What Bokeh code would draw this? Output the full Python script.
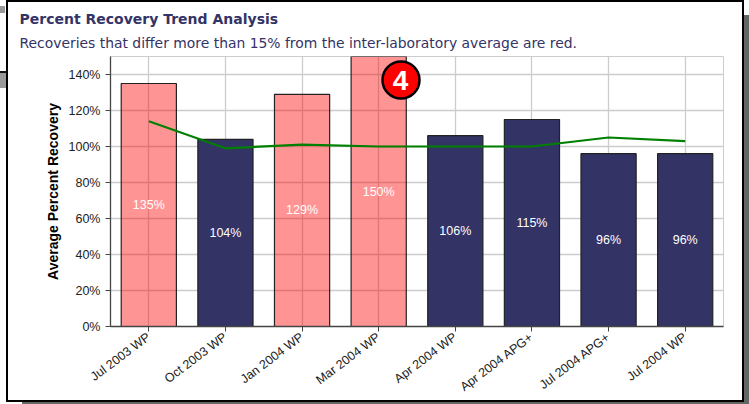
from bokeh.plotting import figure
from bokeh.embed import file_html
from bokeh.resources import INLINE
from bokeh.models import ColumnDataSource, Label, BoxAnnotation, PrintfTickFormatter, Range1d, FixedTicker, Title
from bokeh.core.properties import value
import math

categories = ["Jul 2003 WP", "Oct 2003 WP", "Jan 2004 WP", "Mar 2004 WP",
              "Apr 2004 WP", "Apr 2004 APG+", "Jul 2004 APG+", "Jul 2004 WP"]
recovery = [135, 104, 129, 150, 106, 115, 96, 96]
average = [114, 99, 101, 100, 100, 100, 105, 103]
out_of_range = [True, False, True, True, False, False, False, False]
title_text = "Percent Recovery Trend Analysis"
subtitle_text = "Recoveries that differ more than 15% from the inter-laboratory average are red."
y_ticks = [0, 20, 40, 60, 80, 100, 120, 140]

p = figure(width=749, height=404, x_range=categories, y_range=Range1d(0, 150),
           output_backend="svg", toolbar_location=None,
           min_border_left=110, min_border_right=26, min_border_top=56, min_border_bottom=78)
p.background_fill_color = "white"
p.border_fill_color = None
p.outline_line_color = "#cccccc"

# page furniture behind the transparent canvas: window frame, drop shadow, neighbouring scraps
layers = [
    ("#ffffff", 8, 2, 734, 398),
    ("#000000", 6, 0, 738, 402),
    ("#666666", 744, 15, 5, 389),
    ("#666666", 22, 402, 727, 2),
    ("#111111", 0, 71, 6, 2),
    ("#999999", 0, 73, 6, 15),
    ("#999999", 0, 6, 5, 7),
]
p.styles = {"background": ", ".join(
    f"linear-gradient({c},{c}) {x}px {y}px / {w}px {h}px no-repeat" for c, x, y, w, h in layers) + ", #ffffff"}

src = ColumnDataSource(dict(x=categories, top=recovery, mid=[v / 2 for v in recovery],
                            label=[f"{v}%" for v in recovery], avg=average,
                            color=["#ff0000" if o else "#333366" for o in out_of_range],
                            alpha=[0.42 if o else 1.0 for o in out_of_range]))

p.vbar(x="x", top="top", width=0.72, source=src, fill_color="color", fill_alpha="alpha",
       line_color="#222222", line_width=1.2)
p.line(x="x", y="avg", source=src, line_color="#008000", line_width=2.2)
p.text(x="x", y="mid", text="label", source=src, text_color="white", text_align="center",
       text_baseline="middle", text_font=value("Liberation Sans"), text_font_size="12.5px")

p.xgrid.grid_line_color = "#cccccc"
p.ygrid.grid_line_color = "#cccccc"
p.xgrid.grid_line_width = 1.3
p.ygrid.grid_line_width = 1.3
p.grid.level = "underlay"

p.yaxis.ticker = FixedTicker(ticks=y_ticks)
p.yaxis.formatter = PrintfTickFormatter(format="%d%%")
p.yaxis.axis_label = "Average Percent Recovery"
p.yaxis.axis_label_text_font = "Liberation Sans"
p.yaxis.axis_label_text_font_size = "14px"
p.yaxis.axis_label_text_font_style = "bold"
p.yaxis.axis_label_text_color = "black"
p.yaxis.axis_label_standoff = 5
for ax in (p.xaxis, p.yaxis):
    ax.major_label_text_font = "Liberation Sans"
    ax.major_label_text_font_size = "12.5px"
    ax.major_label_text_color = "#222222"
    ax.axis_line_color = "#444444"
    ax.axis_line_width = 1.3
    ax.major_tick_line_color = "#444444"
    ax.major_tick_out = 5
    ax.major_tick_in = 0
    ax.minor_tick_line_color = None
p.xaxis.major_label_orientation = math.radians(37)
p.xaxis.major_label_standoff = 4

p.add_layout(Title(text=subtitle_text, align="left", offset=-91, standoff=12,
                   text_font="DejaVu Sans", text_font_size="13.9px", text_font_style="normal",
                   text_color="#333366"), "above")
p.add_layout(Title(text=title_text, align="left", offset=-91, standoff=0,
                   text_font="DejaVu Sans", text_font_size="14px", text_font_style="bold",
                   text_color="#333366"), "above")

# callout badge
p.add_layout(BoxAnnotation(left=382, right=419, top=61, bottom=98, left_units="canvas", right_units="canvas",
                           top_units="canvas", bottom_units="canvas", level="overlay",
                           fill_color="#ff0000", fill_alpha=1, line_color="black", line_alpha=1,
                           line_width=2.5, border_radius=19))
p.add_layout(Label(x=400, y=80, x_units="canvas", y_units="canvas", text="4", level="overlay",
                   text_font="Liberation Sans", text_font_size="28px", text_font_style="bold",
                   text_color="white", text_align="center", text_baseline="middle"))

open("out.html", "w").write(file_html(p, INLINE))
